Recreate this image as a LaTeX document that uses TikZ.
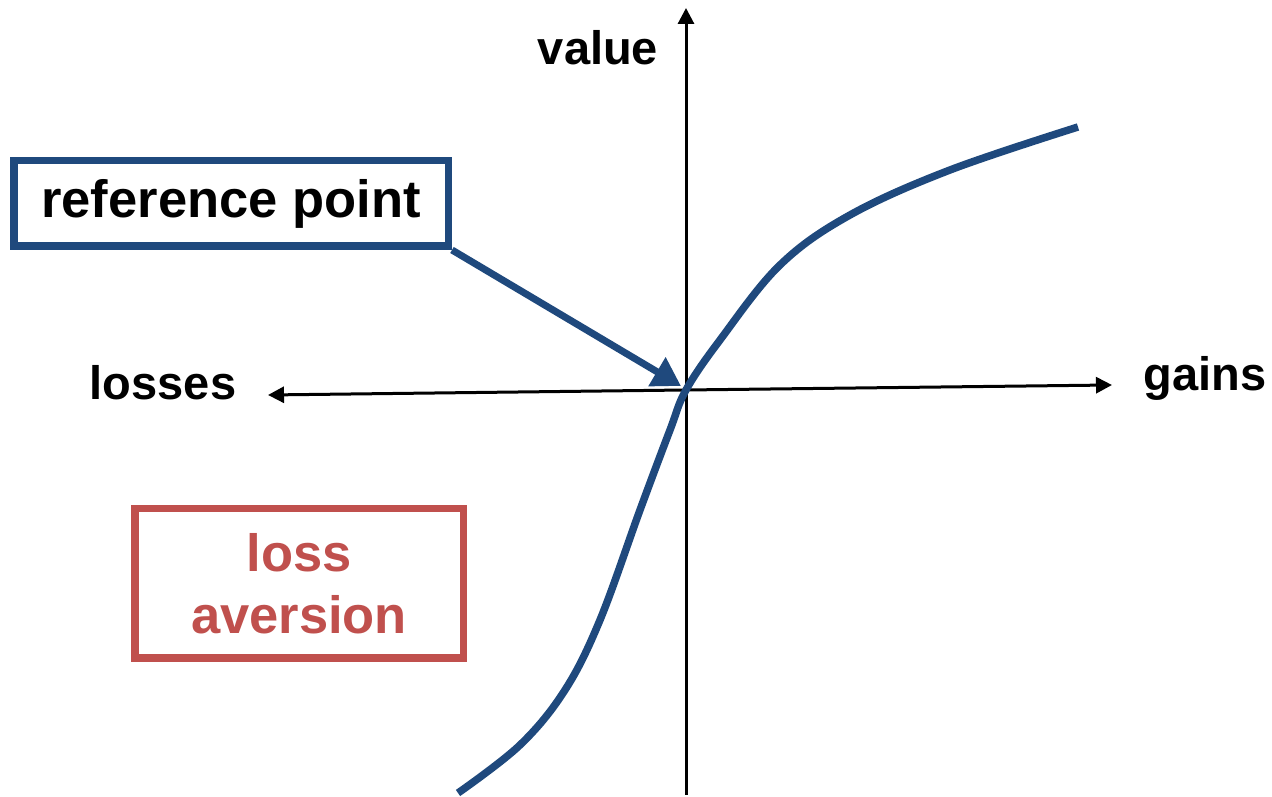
\documentclass[tikz,border=0pt]{standalone}
\usepackage{fontspec}
\setmainfont{Liberation Sans}
\usetikzlibrary{arrows.meta}
\definecolor{refBlue}{RGB}{31,73,125}
\definecolor{lossRed}{RGB}{192,80,77}

\begin{document}
\begin{tikzpicture}[
  x=1pt, y=1pt,
  every node/.style={align=center, font=\fontsize{47}{56}\selectfont\bfseries},
  axis/.style={-{Triangle[length=16pt,width=16pt]}, line width=3pt, draw=black},
  callout/.style={draw=refBlue, line width=7.5pt, fill=white, inner sep=0pt,
    font=\fontsize{52.5}{62}\selectfont\bfseries},
  lossbox/.style={draw=lossRed, line width=7.5pt, inner sep=0pt, text=lossRed,
    font=\fontsize{52.5}{62}\selectfont\bfseries},
  pointer/.style={-{Triangle[length=28pt,width=32pt]}, line width=7pt, draw=refBlue},
  curve/.style={line width=7.5pt, draw=refBlue}
]
\useasboundingbox (0,0) rectangle (1272,797);

% - axes -
\coordinate (origin) at (686,407);
\coordinate (ybot) at (686,2);
\coordinate (ytop) at (686,789);
\coordinate (xleft) at (268,402);
\coordinate (xright) at (1112,412);
\draw[axis] (ybot) -- (ytop);
\draw[axis] (origin) -- (xleft);
\draw[axis] (origin) -- (xright);

\node (value) at (598,749) {value};
\node (losses) at (163,414) {losses};
\node (gains) at (1205,419) {gains};

% - value curve -
\draw[curve] plot[smooth, tension=0.6] coordinates {
  (458,4) (520,52) (565,107) (600,177) (640,287) (670,367) (686,407)
  (720,457) (780,532) (850,582) (950,627) (1078,670)};

% - labels -
\node[callout, minimum width=434.5pt, minimum height=85.5pt] (refpoint) at (231,593.5) {reference point};
\node[lossbox, minimum width=328.5pt, minimum height=149.5pt] (aversion) at (299,213.5) {loss\\aversion};

\draw[pointer] (refpoint.south east) -- ([xshift=-5pt,yshift=4pt]origin);

\end{tikzpicture}
\end{document}
